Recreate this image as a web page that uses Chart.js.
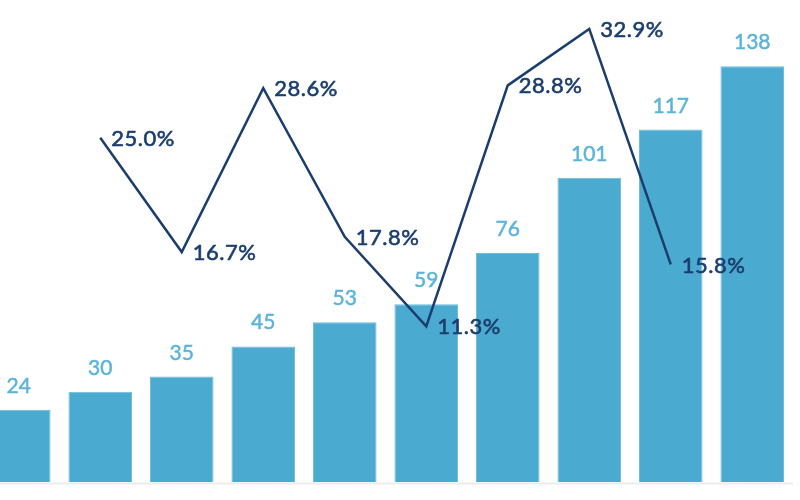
<!DOCTYPE html>
<html>
<head>
<meta charset="utf-8">
<script src="https://cdn.jsdelivr.net/npm/chart.js@4"></script>
<style>
  html, body { margin: 0; padding: 0; background: #fff; overflow: hidden; }
  #wrap { position: absolute; left: -22px; top: 0; width: 815px; height: 500px; }
</style>
</head>
<body>
<div id="wrap"><canvas id="chart"></canvas></div>
<script>
const categories = ["1", "2", "3", "4", "5", "6", "7", "8", "9", "10"];
const barValues = [24, 30, 35, 45, 53, 59, 76, 101, 117, 138];
const growthValues = [null, 25.0, 16.7, 28.6, 17.8, 11.3, 28.8, 32.9, 15.8, null];

const BAR_COLOR = "#4aaad0";
const BAR_LABEL = "#5bb4d9";
const LINE_COLOR = "#1b3d6e";
const FONT = "Lato, 'Open Sans', sans-serif";

// text with a hairline stroke so it reads a touch heavier
function heavyText(ctx, text, x, y, color, w) {
  ctx.fillStyle = color;
  ctx.strokeStyle = color;
  ctx.lineWidth = w;
  ctx.lineJoin = "round";
  ctx.fillText(text, x, y);
  ctx.strokeText(text, x, y);
}

const labelPlugin = {
  id: "labels",
  afterDatasetsDraw(chart) {
    const ctx = chart.ctx;
    const area = chart.chartArea;
    ctx.save();
    // faint baseline
    ctx.strokeStyle = "#ececec";
    ctx.lineWidth = 2;
    ctx.beginPath();
    ctx.moveTo(area.left, area.bottom + 1.5);
    ctx.lineTo(area.right, area.bottom + 1.5);
    ctx.stroke();

    // bar values
    ctx.font = `21px ${FONT}`;
    ctx.textAlign = "center";
    ctx.textBaseline = "alphabetic";
    chart.getDatasetMeta(1).data.forEach((bar, i) => {
      heavyText(ctx, String(barValues[i]), bar.x, bar.y - 17, BAR_LABEL, 0.5);
    });

    // growth values
    ctx.font = `22px ${FONT}`;
    ctx.letterSpacing = "0.5px";
    ctx.textAlign = "left";
    ctx.textBaseline = "middle";
    chart.getDatasetMeta(0).data.forEach((pt, i) => {
      if (growthValues[i] == null) return;
      heavyText(ctx, growthValues[i].toFixed(1) + "%", pt.x + 11, pt.y + 1, LINE_COLOR, 0.6);
    });
    ctx.restore();
  },
};

new Chart(document.getElementById("chart"), {
  data: {
    labels: categories,
    datasets: [
      {
        type: "line",
        data: growthValues,
        yAxisID: "y2",
        borderColor: LINE_COLOR,
        borderWidth: 2.5,
        pointRadius: 0,
        tension: 0,
        spanGaps: false,
        order: 0,
      },
      {
        type: "bar",
        data: barValues,
        yAxisID: "y",
        backgroundColor: BAR_COLOR,
        borderColor: "#6dbbdb",
        borderWidth: 1,
        categoryPercentage: 1,
        barPercentage: 0.78,
        order: 1,
      },
    ],
  },
  options: {
    responsive: true,
    maintainAspectRatio: false,
    animation: false,
    layout: { padding: { top: 0, bottom: 18, left: 0, right: 0 } },
    plugins: { legend: { display: false }, tooltip: { enabled: false } },
    scales: {
      x: { display: false, offset: true },
      y: { display: false, min: 0, max: 160 },
      y2: { display: false, min: 0, max: 35, position: "right" },
    },
  },
  plugins: [labelPlugin],
});
</script>
</body>
</html>
